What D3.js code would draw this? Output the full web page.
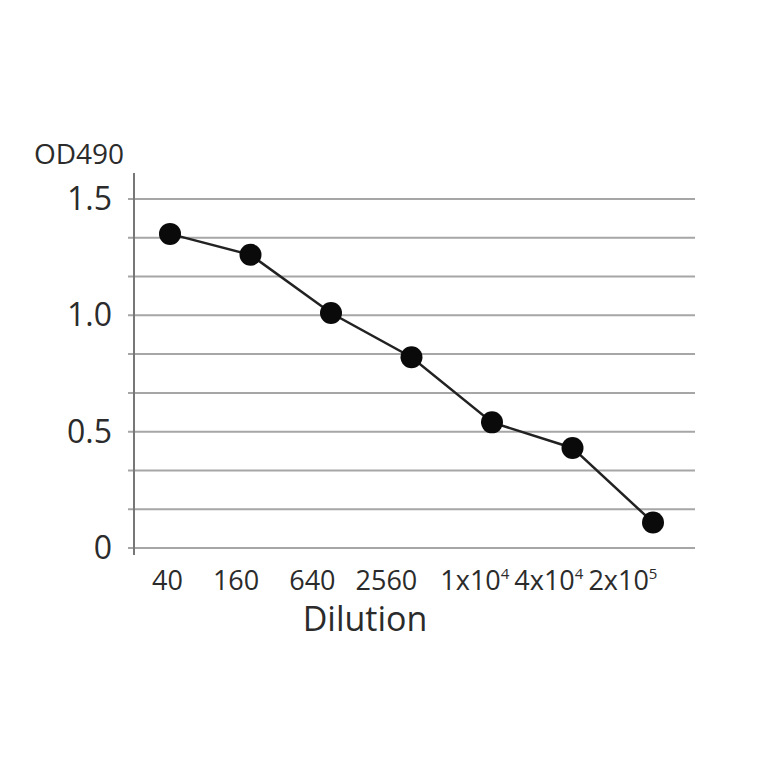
<!DOCTYPE html>
<html lang="en">
<head>
  <meta charset="utf-8">
  <title>OD490 vs Dilution</title>
  <script src="https://d3js.org/d3.v7.min.js"></script>
  <style>
    body { margin: 0; background: #fff; }
    text { font-family: "Open Sans", sans-serif; fill: #2b2b2b; }
  </style>
</head>
<body>
<script>
// data
var dilutions = ['40', '160', '640', '2560', '1x10^4', '4x10^4', '2x10^5'];
var od490 = [1.35, 1.26, 1.01, 0.82, 0.54, 0.43, 0.11];
var yTickValues = [0, 0.5, 1.0, 1.5];
var yTickLabels = ['0', '0.5', '1.0', '1.5'];

var w = 764, h = 764;

var svg = d3.select('body').append('svg')
  .attr('width', w)
  .attr('height', h);

// scales
var y = d3.scaleLinear().domain([0, 1.5]).range([548, 199]);
var x = d3.scalePoint().domain(dilutions).range([170, 653]);

var axisX = 134, gridRight = 695;

// gridlines every 1/6 (three between each labelled tick)
var gridTicks = d3.range(0, 10).map(function(i) { return i * 1.5 / 9; });

svg.append('g').selectAll('line')
  .data(gridTicks)
  .enter().append('line')
  .attr('x1', axisX - 6)
  .attr('x2', gridRight)
  .attr('y1', function(d) { return y(d); })
  .attr('y2', function(d) { return y(d); })
  .attr('stroke', '#a6a6a6')
  .attr('stroke-width', 2);

// vertical axis line
svg.append('line')
  .attr('x1', axisX).attr('x2', axisX)
  .attr('y1', y(1.5) - 26).attr('y2', y(0) + 7)
  .attr('stroke', '#777')
  .attr('stroke-width', 2);

// y tick labels
svg.append('g').selectAll('text')
  .data(yTickValues)
  .enter().append('text')
  .attr('x', 112)
  .attr('y', function(d) { return y(d) + 11; })
  .attr('text-anchor', 'end')
  .style('font-size', '32px')
  .text(function(d, i) { return yTickLabels[i]; });

svg.append('text')
  .attr('x', 34)
  .attr('y', 164)
  .style('font-size', '28px')
  .text('OD490');

// the line + dots
var line = d3.line()
  .x(function(d, i) { return x(dilutions[i]); })
  .y(function(d) { return y(d); });

svg.append('path')
  .datum(od490)
  .attr('d', line)
  .attr('fill', 'none')
  .attr('stroke', '#222')
  .attr('stroke-width', 2.5);

svg.append('g').selectAll('circle')
  .data(od490)
  .enter().append('circle')
  .attr('cx', function(d, i) { return x(dilutions[i]); })
  .attr('cy', function(d) { return y(d); })
  .attr('r', 11)
  .attr('fill', '#0a0a0a');

// x labels: typed as one run of text with gaps, like the original
var labelGaps = [0, 30, 30, 20, 23, 5, 5];
var xl = svg.append('text')
  .attr('x', 152)
  .attr('y', 590)
  .style('font-size', '27px');

var pendingDy = 0;
dilutions.forEach(function(lab, i) {
  var parts = lab.split('^');
  xl.append('tspan')
    .attr('dx', labelGaps[i])
    .attr('dy', pendingDy)
    .text(parts[0]);
  pendingDy = 0;
  if (parts[1]) {
    xl.append('tspan')
      .attr('dy', -11)
      .style('font-size', '15px')
      .text(parts[1]);
    pendingDy = 11;
  }
});

svg.append('text')
  .attr('x', 365)
  .attr('y', 631)
  .attr('text-anchor', 'middle')
  .style('font-size', '34px')
  .text('Dilution');
</script>
</body>
</html>
